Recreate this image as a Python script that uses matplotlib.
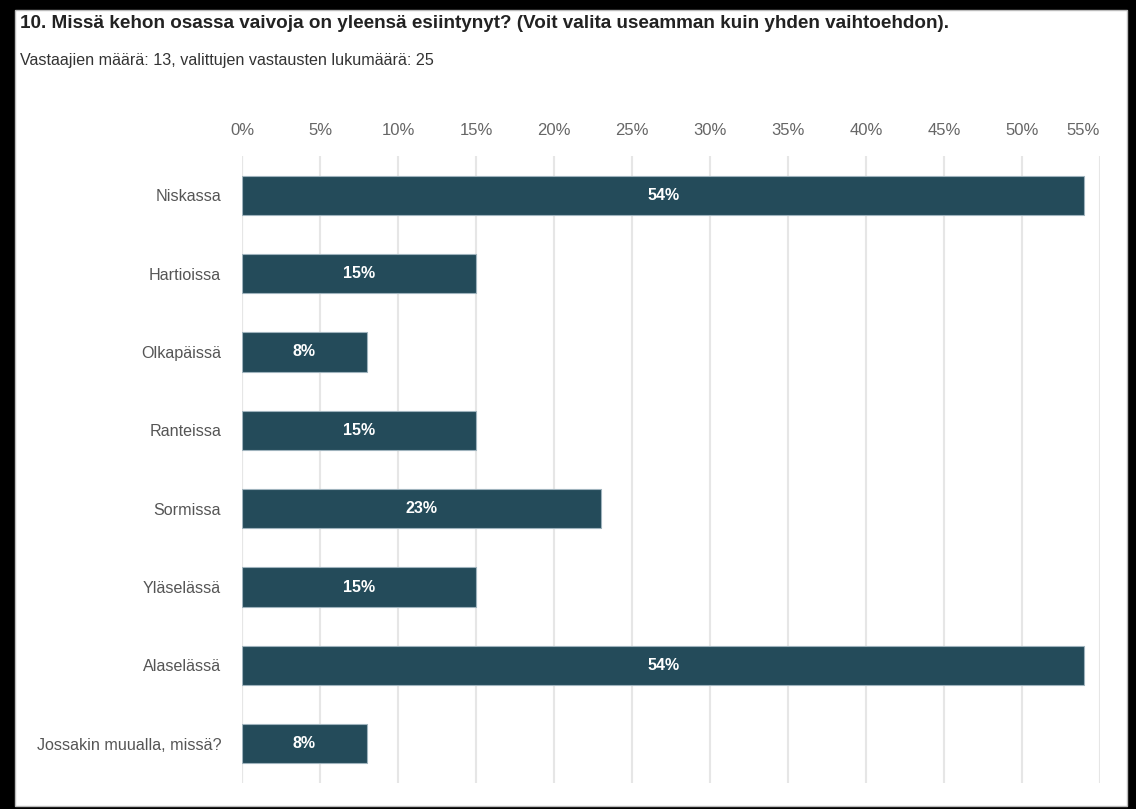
import matplotlib
matplotlib.use("Agg")
import matplotlib.pyplot as plt
from matplotlib.patches import Rectangle

plt.rcParams['font.family'] = ['Liberation Sans', 'DejaVu Sans']

title = "10. Missä kehon osassa vaivoja on yleensä esiintynyt? (Voit valita useamman kuin yhden vaihtoehdon)."
subtitle = "Vastaajien määrä: 13, valittujen vastausten lukumäärä: 25"
categories = ["Niskassa", "Hartioissa", "Olkapäissä", "Ranteissa",
              "Sormissa", "Yläselässä", "Alaselässä", "Jossakin muualla, missä?"]
percents = [54, 15, 8, 15, 23, 15, 54, 8]
tick_values = [0, 5, 10, 15, 20, 25, 30, 35, 40, 45, 50, 55]

W, H = 1136, 809
fig = plt.figure(figsize=(W / 100, H / 100), dpi=100)
fig.patch.set_facecolor("black")

# white card inside the black frame
card = Rectangle((15 / W, 3 / H), (1127 - 15) / W, (799 - 3) / H,
                 transform=fig.transFigure, facecolor="white",
                 edgecolor="#bbbbbb", linewidth=1.0, zorder=-10)
fig.patches.append(card)

fig.text(20 / W, 1 - 23 / H, title, fontsize=13.6, fontweight="bold",
         color="#222222", va="center", ha="left")
fig.text(20 / W, 1 - 61 / H, subtitle, fontsize=11.6,
         color="#333333", va="center", ha="left")

ax = fig.add_axes([242 / W, 26 / H, (1100 - 242) / W, (783 - 156) / H])
ax.set_zorder(5)
ax.set_facecolor("none")
ypos = list(range(len(categories)))
bars = ax.barh(ypos, percents, height=0.5, color="#244b5a",
               edgecolor="#9fb3bd", linewidth=0.8, zorder=3)
for y, v in zip(ypos, percents):
    ax.text(v / 2, y, f"{v}%", color="white", fontweight="bold",
            fontsize=11.5, ha="center", va="center", zorder=4)

ax.set_xlim(0, 55)
ax.set_ylim(len(categories) - 0.5, -0.5)
ax.set_yticks(ypos)
ax.set_yticklabels(categories, fontsize=11.6, color="#555555")
ax.set_xticks(tick_values)
ax.set_xticklabels([f"{t}%" for t in tick_values], fontsize=12, color="#666666")
ax.xaxis.tick_top()
ax.tick_params(axis="x", length=0, pad=13)
ax.tick_params(axis="y", length=0, pad=15)
# keep the last tick label inside the plot area
ax.get_xticklabels()[-1].set_horizontalalignment("right")

ax.grid(axis="x", color="#e6e6e6", linewidth=1.5, zorder=0)
ax.axvline(0, color="#ccd6eb", linewidth=1.5, zorder=1)
for s in ax.spines.values():
    s.set_visible(False)

fig.savefig("out.png", dpi=100, facecolor=fig.get_facecolor())
